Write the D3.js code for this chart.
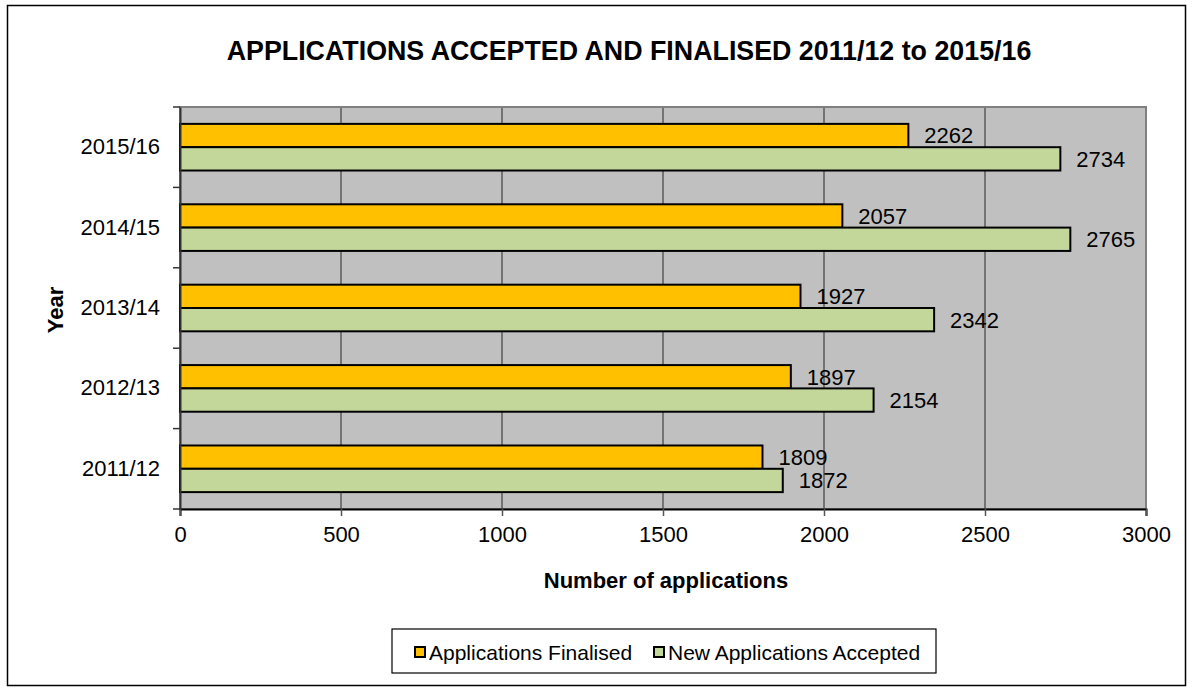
<!DOCTYPE html>
<html>
<head>
<meta charset="utf-8">
<script src="https://cdn.jsdelivr.net/npm/d3@7"></script>
<style>
  body { margin: 0; background: #fff; }
  svg text { font-family: "Liberation Sans", Arial, sans-serif; fill: #000; }
</style>
</head>
<body>
<div id="chart"></div>
<script>
var years = ["2011/12", "2012/13", "2013/14", "2014/15", "2015/16"];
var finalised = [1809, 1897, 1927, 2057, 2262];
var accepted = [1872, 2154, 2342, 2765, 2734];
var seriesNames = ["Applications Finalised", "New Applications Accepted"];
var seriesColors = ["#FFC000", "#C4D79B"];
var xTicks = [0, 500, 1000, 1500, 2000, 2500, 3000];

var W = 1192, H = 688;
var plot = {left: 180, top: 107, right: 1146, bottom: 509};

var svg = d3.select("#chart").append("svg")
  .attr("width", W).attr("height", H);

// outer frame
svg.append("rect")
  .attr("x", 7.5).attr("y", 5.5)
  .attr("width", 1178).attr("height", 680)
  .attr("fill", "#fff").attr("stroke", "#000").attr("stroke-width", 1.5);

var x = d3.scaleLinear().domain([0, 3000]).range([plot.left, plot.right]);
var y = d3.scaleBand().domain(years.slice().reverse()).range([plot.top, plot.bottom])
  .paddingInner(0.42).paddingOuter(0.21);
var sub = d3.scaleBand().domain([0, 1]).range([0, y.bandwidth()]);

// plot background
svg.append("rect")
  .attr("x", plot.left).attr("y", plot.top)
  .attr("width", plot.right - plot.left).attr("height", plot.bottom - plot.top)
  .attr("fill", "#C0C0C0");

// vertical gridlines
svg.selectAll(".grid").data(xTicks.slice(1, -1)).enter().append("line")
  .attr("x1", d => x(d)).attr("x2", d => x(d))
  .attr("y1", plot.top).attr("y2", plot.bottom)
  .attr("stroke", "#5a5a5a").attr("stroke-width", 1.5);

// plot border
svg.append("rect")
  .attr("x", plot.left).attr("y", plot.top)
  .attr("width", plot.right - plot.left).attr("height", plot.bottom - plot.top)
  .attr("fill", "none").attr("stroke", "#808080").attr("stroke-width", 2);

// bars
var rows = years.map((yr, i) => ({year: yr, vals: [finalised[i], accepted[i]]}));
var g = svg.selectAll(".yr").data(rows).enter().append("g")
  .attr("transform", d => "translate(0," + y(d.year) + ")");

g.selectAll("rect").data(d => d.vals.map((v, k) => ({v: v, k: k}))).enter().append("rect")
  .attr("x", x(0))
  .attr("y", d => sub(d.k))
  .attr("width", d => x(d.v) - x(0))
  .attr("height", sub.bandwidth())
  .attr("fill", d => seriesColors[d.k])
  .attr("stroke", "#000").attr("stroke-width", 2);

g.selectAll("text").data(d => d.vals.map((v, k) => ({v: v, k: k}))).enter().append("text")
  .attr("x", d => x(d.v) + 16)
  .attr("y", d => sub(d.k) + sub.bandwidth() / 2)
  .attr("dy", "0.36em")
  .style("font-size", "22px")
  .text(d => d.v);

// x axis
var xAxis = svg.append("g")
  .attr("transform", "translate(0," + plot.bottom + ")")
  .call(d3.axisBottom(x).tickValues(xTicks).tickSize(7).tickPadding(10).tickFormat(d3.format("d")));
xAxis.select(".domain").attr("stroke", "#000").attr("stroke-width", 2);
xAxis.selectAll(".tick line").attr("stroke", "#555").attr("stroke-width", 1.5);
xAxis.selectAll("text").style("font-size", "22px").attr("font-family", null);

// y axis
var yAxis = svg.append("g")
  .attr("transform", "translate(" + plot.left + ",0)")
  .call(d3.axisLeft(y).tickSize(0).tickPadding(20));
yAxis.select(".domain").attr("stroke", "#333").attr("stroke-width", 2);
yAxis.selectAll("text").style("font-size", "22px").attr("font-family", null);

var step = (plot.bottom - plot.top) / years.length;
yAxis.selectAll(".ytick").data(d3.range(years.length + 1)).enter().append("line")
  .attr("x1", -7).attr("x2", 0)
  .attr("y1", d => plot.top + d * step).attr("y2", d => plot.top + d * step)
  .attr("stroke", "#333").attr("stroke-width", 1.5);

// titles
svg.append("text")
  .attr("x", 629).attr("y", 50).attr("dy", "0.36em")
  .attr("text-anchor", "middle")
  .style("font-size", "26.8px").style("font-weight", "bold")
  .text("APPLICATIONS ACCEPTED AND FINALISED 2011/12 to 2015/16");

svg.append("text")
  .attr("x", 666).attr("y", 580).attr("dy", "0.36em")
  .attr("text-anchor", "middle")
  .style("font-size", "22px").style("font-weight", "bold")
  .text("Number of applications");

svg.append("text")
  .attr("transform", "translate(55,310) rotate(-90)")
  .attr("dy", "0.36em")
  .attr("text-anchor", "middle")
  .style("font-size", "22px").style("font-weight", "bold")
  .text("Year");

// legend
svg.append("rect")
  .attr("x", 392).attr("y", 629).attr("width", 544).attr("height", 44)
  .attr("fill", "#fff").attr("stroke", "#000").attr("stroke-width", 1.2);

var legX = [414, 653];
var leg = svg.selectAll(".leg").data(seriesNames).enter().append("g")
  .attr("transform", (d, i) => "translate(" + legX[i] + ",646)");
leg.append("rect")
  .attr("x", 1).attr("y", 1).attr("width", 10).attr("height", 10)
  .attr("fill", (d, i) => seriesColors[i])
  .attr("stroke", "#000").attr("stroke-width", 2);
leg.append("text")
  .attr("x", 15).attr("y", 6).attr("dy", "0.36em")
  .style("font-size", "21px")
  .text(d => d);
</script>
</body>
</html>
